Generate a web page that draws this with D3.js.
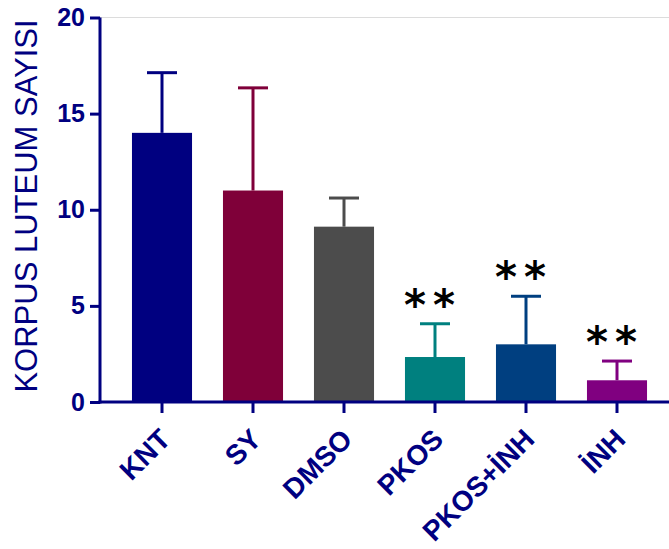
<!DOCTYPE html>
<html>
<head>
<meta charset="utf-8">
<script src="https://cdn.jsdelivr.net/npm/d3@7"></script>
<style>
  html, body { margin: 0; padding: 0; background: #fff; }
  svg { display: block; }
</style>
</head>
<body>
<svg id="chart" width="669" height="549"></svg>
<script>
// Groups, means and upper error (SD) for corpus luteum counts
const groups = ["KNT", "SY", "DMSO", "PKOS", "PKOS+İNH", "İNH"];
const means = [14.0, 11.0, 9.12, 2.34, 3.0, 1.13];
const errors = [3.13, 5.34, 1.49, 1.73, 2.5, 1.0];
const colors = ["#000080", "#7f0039", "#4c4c4c", "#00807f", "#003f80", "#800080"];
const significance = ["", "", "", "**", "**", "**"];
const yTicks = [0, 5, 10, 15, 20];

const navy = "#000080";
const svg = d3.select("#chart");

const y = d3.scaleLinear().domain([0, 20]).range([402, 17.5]);
const x = d3.scaleBand().domain(groups).range([116.5, 662.5])
  .paddingInner(0.34).paddingOuter(0.17);

// faint frame line at the top of the plot
svg.append("line")
  .attr("x1", 100).attr("x2", 669)
  .attr("y1", y(20)).attr("y2", y(20))
  .attr("stroke", "#dcdcdc").attr("stroke-width", 1);

// bars
svg.selectAll("rect.bar").data(groups).join("rect")
  .attr("class", "bar")
  .attr("x", d => x(d))
  .attr("width", x.bandwidth())
  .attr("y", (d, i) => y(means[i]))
  .attr("height", (d, i) => y(0) - y(means[i]))
  .attr("fill", (d, i) => colors[i]);

// error bars (upper only)
const eb = svg.selectAll("g.err").data(groups).join("g").attr("class", "err")
  .attr("stroke", (d, i) => colors[i]).attr("stroke-width", 3);
eb.append("line")
  .attr("x1", d => x(d) + x.bandwidth() / 2)
  .attr("x2", d => x(d) + x.bandwidth() / 2)
  .attr("y1", (d, i) => y(means[i]))
  .attr("y2", (d, i) => y(means[i] + errors[i]));
eb.append("line")
  .attr("x1", d => x(d) + x.bandwidth() / 2 - 15)
  .attr("x2", d => x(d) + x.bandwidth() / 2 + 15)
  .attr("y1", (d, i) => y(means[i] + errors[i]))
  .attr("y2", (d, i) => y(means[i] + errors[i]));

// significance markers
svg.selectAll("text.sig").data(groups).join("text")
  .attr("class", "sig")
  .attr("x", d => x(d) + x.bandwidth() / 2 - 2)
  .attr("y", (d, i) => y(means[i] + errors[i]) - 4)
  .attr("text-anchor", "middle")
  .attr("font-family", "DejaVu Sans, sans-serif")
  .attr("font-weight", "bold")
  .attr("font-size", 42)
  .attr("letter-spacing", 7)
  .attr("fill", "#000")
  .text((d, i) => significance[i]);

// y axis
const yAxis = svg.append("g")
  .attr("transform", "translate(100,0)")
  .call(d3.axisLeft(y).tickValues(yTicks).tickSize(10).tickPadding(5).tickFormat(d3.format("d")));
yAxis.select(".domain").attr("stroke", navy).attr("stroke-width", 3)
  .attr("d", `M0,${y(20)}V${y(0) + 1.5}`);
yAxis.selectAll(".tick line").attr("stroke", navy).attr("stroke-width", 3);
yAxis.selectAll(".tick text")
  .attr("fill", navy)
  .attr("font-family", "Liberation Sans, Arial, sans-serif")
  .attr("font-weight", "bold")
  .attr("font-size", 25);

// x axis
const xAxis = svg.append("g")
  .attr("transform", `translate(0,${y(0)})`)
  .call(d3.axisBottom(x).tickSize(11).tickPadding(3));
xAxis.select(".domain").attr("stroke", navy).attr("stroke-width", 3)
  .attr("d", "M98.5,0H669");
xAxis.selectAll(".tick line").attr("stroke", navy).attr("stroke-width", 3);
xAxis.selectAll(".tick text")
  .attr("fill", navy)
  .attr("font-family", "Liberation Sans, Arial, sans-serif")
  .attr("font-weight", "bold")
  .attr("font-size", 28)
  .attr("text-anchor", "end")
  .attr("dy", null)
  .attr("y", 0)
  .attr("transform", "translate(10,39) rotate(-45)");

// y axis title
svg.append("text")
  .attr("transform", `translate(37,${(18 + 394) / 2}) rotate(-90)`)
  .attr("text-anchor", "middle")
  .attr("font-family", "Liberation Sans, Arial, sans-serif")
  .attr("font-size", 31)
  .attr("fill", navy)
  .text("KORPUS LUTEUM SAYISI");
</script>
</body>
</html>
